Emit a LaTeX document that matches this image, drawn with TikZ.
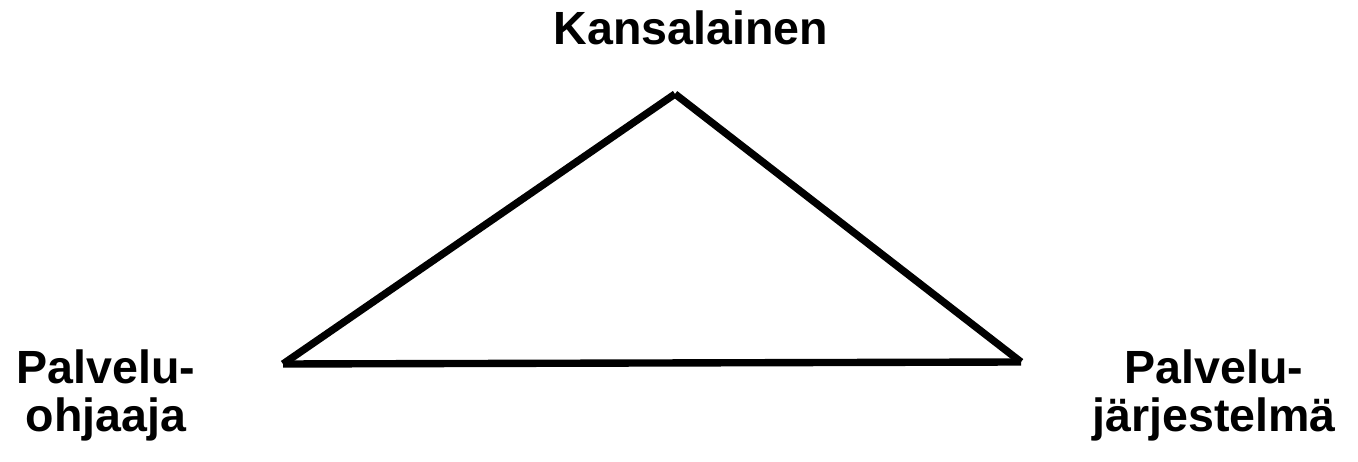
\documentclass[tikz,border=0pt]{standalone}
\usepackage{fontspec}
\setmainfont{Liberation Sans}
\begin{document}
\begin{tikzpicture}[
        every node/.style={align=center, font=\bfseries\fontsize{26.5}{27.6}\selectfont, inner sep=0pt},
        side/.style={line width=4.2pt, line cap=butt}
    ]
    \useasboundingbox (0,0) rectangle (27.16,9.24);
    % corners of the triangle
    \coordinate (top) at (13.5,7.36);
    \coordinate (left) at (5.66,1.96);
    \coordinate (right) at (20.42,2.0);
    \draw[side] (left) -- (top);
    \draw[side] (top) -- (right);
    \draw[side] (left) -- (right);
    % labels
    \node (kans) at (13.82,8.68) {Kansalainen};
    \node (ohj) at (2.12,1.33) {Palvelu-\\ohjaaja};
    \node (jarj) at (24.28,1.33) {Palvelu-\\järjestelmä};
\end{tikzpicture}
\end{document}
